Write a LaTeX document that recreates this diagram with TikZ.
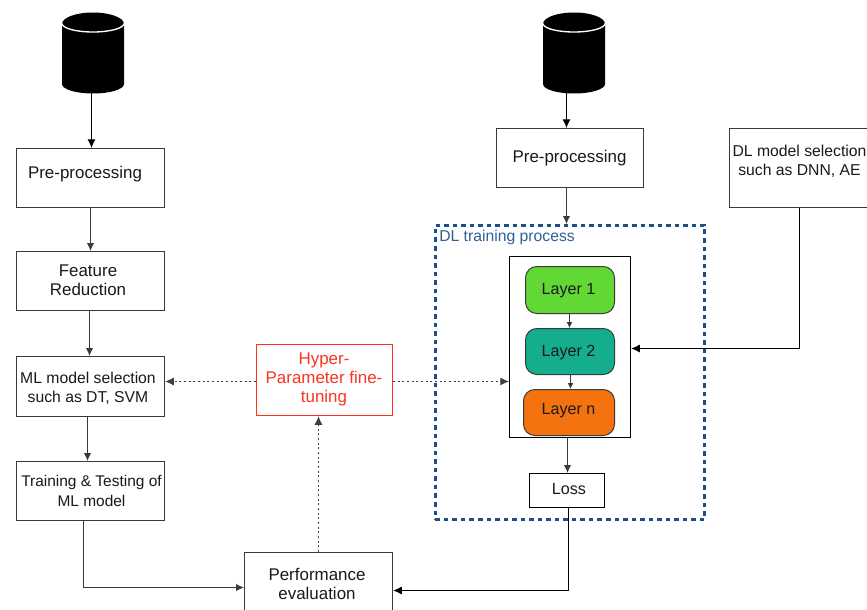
\documentclass[tikz,border=0pt]{standalone}
\usepackage{fontspec}
\setmainfont{Liberation Sans}
\usetikzlibrary{arrows.meta}
\definecolor{dlblue}{HTML}{1B4F86}
\definecolor{dltext}{HTML}{2F6096}
\definecolor{hpred}{HTML}{F9341F}
\definecolor{lgreen}{HTML}{62D834}
\definecolor{lteal}{HTML}{14AE8C}
\definecolor{lorange}{HTML}{F4730E}
\definecolor{boxline}{HTML}{3A3A3A}
\tikzset{
  x=0.75pt,y=-0.75pt,
  boxn/.style={draw=boxline,line width=0.85pt,fill=white,inner sep=0pt,anchor=north west},
  txt/.style={font=\fontsize{12.7pt}{14.3pt}\selectfont,align=center,inner sep=0pt,text=black!90},
  small/.style={font=\fontsize{11.8pt}{14.3pt}\selectfont},
  lay/.style={font=\fontsize{12.1pt}{14pt}\selectfont},
  layern/.style={draw=boxline,line width=0.75pt,rounded corners=8.5pt,inner sep=0pt,anchor=north west},
  conn/.style={draw=boxline,line width=0.75pt,-{Latex[length=6pt,width=5.5pt]}},
  tinyconn/.style={draw=boxline,line width=0.7pt,-{Latex[length=4.5pt,width=4.5pt]}},
  solidconn/.style={draw=black,line width=0.75pt,-{Latex[length=6.5pt,width=6pt]}},
  dotconn/.style={draw=black!75,line width=0.75pt,dash pattern=on 1.5pt off 2pt,-{Latex[length=6.5pt,width=6pt]}},
}
\newcommand{\dbshape}[1]{%
  \fill[black] (#1-31,24) arc[start angle=180,end angle=360,x radius=31,y radius=11.5]
     -- (#1+31,84) arc[start angle=0,end angle=180,x radius=31,y radius=9.5] -- cycle;
  \draw[white,line width=1pt] (#1-31,23.5) arc[start angle=180,end angle=0,x radius=31,y radius=8.5];
}
\begin{document}
\begin{tikzpicture}
\useasboundingbox (0,0) rectangle (867,610);
\clip (0,0) rectangle (867,610);
\fill[white] (0,0) rectangle (867,610);
% x columns
\coordinate (xa) at (91.5,0);
\coordinate (xb) at (90.5,0);
\coordinate (xc) at (89.5,0);
\coordinate (xd) at (87.5,0);
\coordinate (xe) at (83.5,0);
\coordinate (xf) at (318.5,0);
\coordinate (xg) at (566.5,0);
\coordinate (xh) at (569.5,0);
\coordinate (xi) at (570.5,0);
\coordinate (xj) at (567.5,0);
\coordinate (xk) at (568.5,0);
\coordinate (xl) at (799.5,0);
% y rows
\coordinate (ya) at (0,381.5);
\coordinate (yb) at (0,348.5);
\coordinate (yc) at (0,587.5);
\coordinate (yd) at (0,590.5);
% cylinders
\dbshape{93}
\dbshape{574}
\coordinate (db1) at (91.5,93);
\coordinate (db2) at (566.5,93);
% dashed frame
\node[draw=dlblue,line width=2pt,dash pattern=on 3.4pt off 3.0pt,anchor=north west,minimum width=202pt,minimum height=220.5pt,inner sep=0pt] (frame) at (434,224) {};
\node[font=\fontsize{11.8pt}{13pt}\selectfont,text=dltext,anchor=west,inner sep=0pt] (frametxt) at (439,237) {DL training process};
% boxes
\node[boxn,minimum width=111pt,minimum height=44.25pt] (p1) at (16,148) {};
\node[boxn,minimum width=111pt,minimum height=44.25pt] (feat) at (16,251) {};
\node[boxn,minimum width=111pt,minimum height=45pt] (ml) at (16,356) {};
\node[boxn,minimum width=111pt,minimum height=44.25pt] (train) at (16,461) {};
\node[boxn,draw=hpred,minimum width=102pt,minimum height=53.25pt] (hyper) at (256,344) {};
\node[boxn,minimum width=111pt,minimum height=50pt] (perf) at (244,552) {};
\node[boxn,minimum width=110.25pt,minimum height=44.25pt] (p2) at (496,128) {};
\node[boxn,minimum width=110pt,minimum height=59.25pt] (dlsel) at (729,128) {};
\node[boxn,draw=black,minimum width=90.75pt,minimum height=135.75pt] (big) at (509,256) {};
\node[layern,fill=lgreen,minimum width=66.75pt,minimum height=35.25pt] (l1) at (525,266) {};
\node[layern,fill=lteal,minimum width=66.75pt,minimum height=34.5pt] (l2) at (525,328) {};
\node[layern,fill=lorange,minimum width=68.25pt,minimum height=34.5pt] (ln) at (523,389) {};
\node[boxn,draw=black,minimum width=56.25pt,minimum height=25.5pt] (loss) at (529,473) {};
% texts
\node[txt] (p1t) at (85,174.5) {Pre-processing};
\node[txt] (featt) at (88,280.5) {Feature\\Reduction};
\node[txt,small] (mlt) at (88,388) {ML model selection\\such as DT, SVM};
\node[txt,small,font=\fontsize{11.6pt}{14.3pt}\selectfont] (traint) at (91.5,491) {Training \& Testing of\\ML model};
\node[txt,text=hpred] (hypert) at (324,379.5) {Hyper-\\Parameter fine-\\tuning};
\node[txt] (perft) at (317,583.5) {Performance\\evaluation};
\node[txt] (p2t) at (569.5,158.5) {Pre-processing};
\node[txt,small] (dlselt) at (799.5,161.5) {DL model selection\\such as DNN, AE};
\node[txt,lay] (l1t) at (568.5,290.5) {Layer 1};
\node[txt,lay] (l2t) at (568.5,353) {Layer 2};
\node[txt,lay] (lnt) at (568.5,410.5) {Layer n};
\node[txt,lay] (losst) at (569,489) {Loss};
% connectors
\draw[solidconn] (db1) -- (xa |- p1.north);
\draw[conn] (xb |- p1.south) -- (xb |- feat.north);
\draw[conn] (xc |- feat.south) -- (xc |- ml.north);
\draw[conn] (xd |- ml.south) -- (xd |- train.north);
\draw[conn] (xe |- train.south) |- (perf.west |- yc);
\draw[solidconn] (db2) -- (xg |- p2.north);
\draw[conn] (xg |- p2.south) -- (xg |- frame.north);
\draw[tinyconn] (xh |- l1.south) -- (xh |- l2.north);
\draw[tinyconn] (xi |- l2.south) -- (xi |- ln.north);
\draw[conn] (xj |- big.south) -- (xj |- loss.north);
\draw[solidconn] (xl |- dlsel.south) |- (big.east |- yb);
\draw[solidconn] (xk |- loss.south) |- (perf.east |- yd);
\draw[dotconn] (hyper.west |- ya) -- (ml.east |- ya);
\draw[dotconn] (hyper.east |- ya) -- (big.west |- ya);
\draw[dotconn] (xf |- perf.north) -- (xf |- hyper.south);
\end{tikzpicture}
\end{document}
